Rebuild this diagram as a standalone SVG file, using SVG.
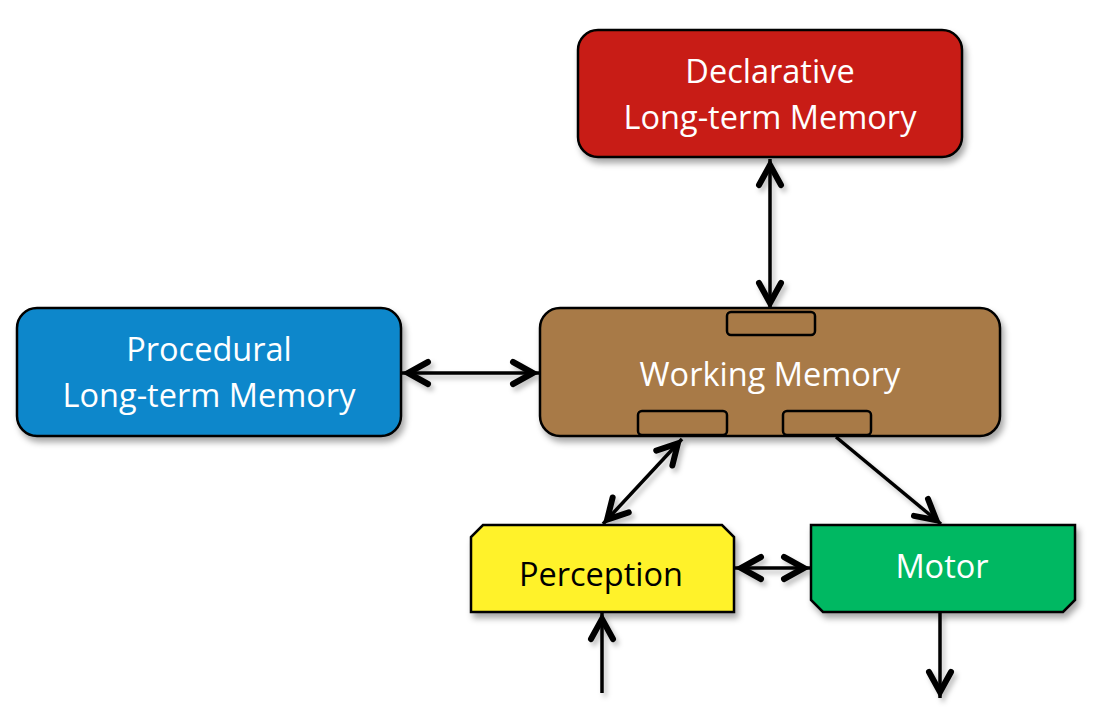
<svg xmlns="http://www.w3.org/2000/svg" width="1094" height="712" viewBox="0 0 1094 712">
<defs>
<filter id="sh" x="-10%" y="-10%" width="125%" height="135%">
<feDropShadow dx="3" dy="5" stdDeviation="3" flood-color="#000" flood-opacity="0.35"/>
</filter>
<filter id="lsh" x="-20%" y="-20%" width="140%" height="140%">
<feDropShadow dx="3" dy="4" stdDeviation="2.5" flood-color="#000" flood-opacity="0.25"/>
</filter>
<marker id="ah" viewBox="0 0 32 30" refX="30" refY="15" markerWidth="32" markerHeight="30" markerUnits="userSpaceOnUse" orient="auto-start-reverse">
<path d="M4,4 L24,15 L4,26" fill="none" stroke="#000" stroke-width="6" stroke-linecap="round" stroke-linejoin="miter" stroke-miterlimit="10"/>
</marker>
</defs>
<style>
.box{stroke:#000;stroke-width:2.5}
.t{font-family:"Open Sans","Noto Sans",sans-serif;font-size:32.5px;text-anchor:middle;fill:#fff}
.slot{fill:#A87A47;stroke:#000;stroke-width:2.5}
.c{fill:none;stroke:#000;stroke-width:3.5}
</style>
<rect width="1094" height="712" fill="#fff"/>
<g id="connectors" filter="url(#lsh)">
<line class="c" x1="770" y1="159" x2="770" y2="309" marker-start="url(#ah)" marker-end="url(#ah)"/>
<line class="c" x1="402" y1="373" x2="539" y2="373" marker-start="url(#ah)" marker-end="url(#ah)"/>
<line class="c" x1="682" y1="439" x2="603" y2="524" marker-start="url(#ah)" marker-end="url(#ah)"/>
<line class="c" x1="836" y1="437" x2="941" y2="524" marker-end="url(#ah)"/>
<line class="c" x1="735" y1="568" x2="810" y2="568" marker-start="url(#ah)" marker-end="url(#ah)"/>
<line class="c" x1="602" y1="693" x2="602" y2="613" marker-end="url(#ah)"/>
<line class="c" x1="940" y1="612" x2="940" y2="698" marker-end="url(#ah)"/>
</g>
<g id="declarative">
<rect class="box" x="578" y="30" width="384" height="127" rx="20" fill="#C81E12" filter="url(#sh)"/>
<text class="t" x="770" y="83">Declarative</text>
<text class="t" x="770" y="129">Long-term Memory</text>
</g>
<g id="procedural">
<rect class="box" x="17" y="308" width="384" height="128" rx="20" fill="#0A87CB" filter="url(#sh)"/>
<text class="t" x="209" y="361">Procedural</text>
<text class="t" x="209" y="407">Long-term Memory</text>
</g>
<g id="working">
<rect class="box" x="540" y="308" width="460" height="128" rx="20" fill="#A87A47" filter="url(#sh)"/>
<rect class="slot" x="727" y="312" width="88" height="23" rx="4"/>
<rect class="slot" x="638" y="411" width="89" height="24" rx="4"/>
<rect class="slot" x="783" y="411" width="88" height="24" rx="4"/>
<text class="t" x="770" y="386">Working Memory</text>
</g>
<g id="perception">
<path class="box" d="M483,525 L722,525 L734,537 L734,612 L471,612 L471,537 Z" fill="#FFF22A" filter="url(#sh)"/>
<text class="t" x="601" y="586" style="fill:#000">Perception</text>
</g>
<g id="motor">
<path class="box" d="M811,525 L1075,525 L1075,600 L1063,612 L823,612 L811,600 Z" fill="#00B862" filter="url(#sh)"/>
<text class="t" x="942" y="578">Motor</text>
</g>
</svg>
